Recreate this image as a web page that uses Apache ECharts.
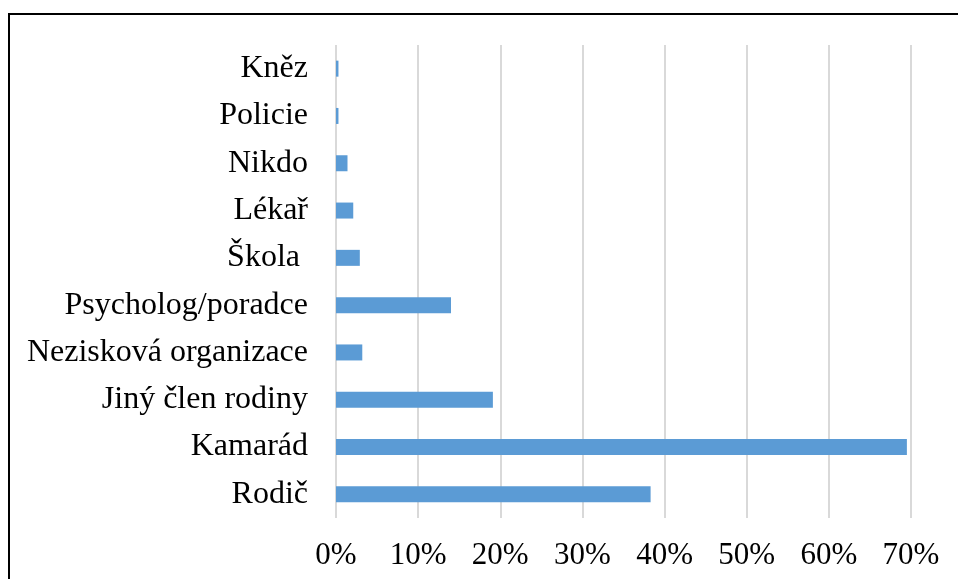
<!DOCTYPE html>
<html>
<head>
<meta charset="utf-8">
<script src="https://cdn.jsdelivr.net/npm/echarts@6/dist/echarts.min.js"></script>
<style>html,body{margin:0;padding:0;background:#fff}#c{width:958px;height:579px}</style>
</head>
<body>
<div id="c"></div>
<script>
const categories = ["Rodič", "Kamarád", "Jiný člen rodiny", "Nezisková organizace", "Psycholog/poradce", "Škola ", "Lékař", "Nikdo", "Policie", "Kněz"];
const values = [38.3, 69.5, 19.1, 3.2, 14.0, 2.9, 2.1, 1.4, 0.3, 0.3];
const xTicks = {min: 0, max: 70, interval: 10};

const chart = echarts.init(document.getElementById('c'));
chart.setOption({
  animation: false,
  graphic: [{
    type: 'rect',
    shape: {x: 9, y: 14, width: 1000, height: 1000},
    style: {fill: 'none', stroke: '#000', lineWidth: 2},
    z: 100
  }],
  grid: {left: 336, right: 47, top: 45, bottom: 61},
  xAxis: {
    type: 'value',
    min: xTicks.min, max: xTicks.max, interval: xTicks.interval,
    axisLine: {show: false},
    axisTick: {show: false},
    splitLine: {show: true, lineStyle: {color: '#D9D9D9', width: 2}},
    axisLabel: {
      formatter: v => v + '%',
      color: '#000',
      fontFamily: 'Liberation Serif',
      fontSize: 31,
      margin: 22
    }
  },
  yAxis: {
    type: 'category',
    data: categories,
    axisLine: {show: false},
    axisTick: {show: false},
    axisLabel: {
      color: '#000',
      fontFamily: 'Liberation Serif',
      fontSize: 32,
      margin: 28
    }
  },
  series: [{
    type: 'bar',
    data: values,
    barWidth: 16,
    itemStyle: {color: '#5B9BD5'}
  }]
});
</script>
</body>
</html>
